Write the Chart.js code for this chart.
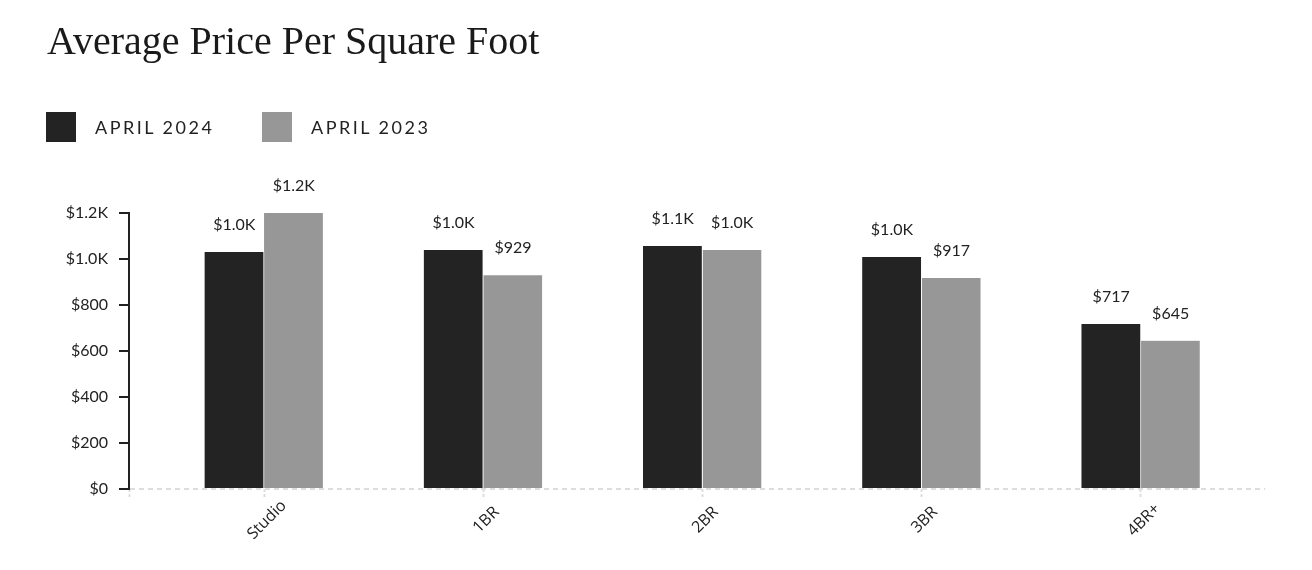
<!DOCTYPE html>
<html><head><meta charset="utf-8">
<script src="https://cdn.jsdelivr.net/npm/chart.js@4.4.1/dist/chart.umd.min.js"></script>
<style>
html,body{margin:0;padding:0;background:#fff;}
#wrap{position:relative;width:1312px;height:570px;overflow:hidden;}
canvas{position:absolute;left:0;top:0;}
#title{position:absolute;left:47px;top:21px;font-family:"Liberation Serif",serif;font-size:40px;line-height:40px;color:#1a1a1a;white-space:nowrap;}
.leg{position:absolute;top:112px;height:30px;display:flex;align-items:center;}
.sw{width:30px;height:30px;margin-right:19px;flex:none;}
.lt{font-family:Lato,sans-serif;font-size:18px;letter-spacing:2.5px;color:#222;white-space:nowrap;}
</style></head>
<body><div id="wrap">
<canvas id="c" width="1312" height="570"></canvas>
<div id="title">Average Price Per Square Foot</div>
<div id="legend"></div>
</div>
<script>
const categories = ['Studio', '1BR', '2BR', '3BR', '4BR+'];
const seriesNames = ['APRIL 2024', 'APRIL 2023'];
const april2024 = [1030, 1039, 1057, 1009, 717];
const april2023 = [1200, 929, 1039, 917, 645];
const yTickValues = [0, 200, 400, 600, 800, 1000, 1200];

const seriesColors = ['#232323', '#979797'];
const legendLeft = [46, 262];

function fmt(v) {
  return v >= 1000 ? '$' + (v / 1000).toFixed(1) + 'K' : '$' + v;
}

// legend (HTML text)
const legEl = document.getElementById('legend');
seriesNames.forEach((name, i) => {
  const d = document.createElement('div');
  d.className = 'leg';
  d.style.left = legendLeft[i] + 'px';
  d.innerHTML = '<div class="sw" style="background:' + seriesColors[i] + '"></div><div class="lt">' + name + '</div>';
  legEl.appendChild(d);
});

const seriesValues = [april2024, april2023];
const datasets = seriesValues.map((vals, s) => ({
  label: seriesNames[s],
  data: vals.map((v, i) => ({ x: i, y: v })),
  backgroundColor: seriesColors[s],
  borderColor: '#ffffff',
  borderWidth: { top: 0, left: 0, bottom: 0, right: 1 },
  borderSkipped: false,
  barThickness: 59.5
}));

const valueLabels = {
  id: 'valueLabels',
  afterDatasetsDraw(chart) {
    const ctx = chart.ctx;
    ctx.save();
    ctx.font = '16px Lato';
    ctx.fillStyle = '#222';
    ctx.textAlign = 'center';
    ctx.textBaseline = 'middle';
    chart.data.datasets.forEach((ds, di) => {
      const meta = chart.getDatasetMeta(di);
      meta.data.forEach((el, i) => {
        ctx.fillText(fmt(ds.data[i].y), el.x, el.y - 27);
      });
    });
    ctx.restore();
  }
};

// category labels, rotated about their centre under each tick of the x scale
const categoryLabels = {
  id: 'categoryLabels',
  afterDraw(chart) {
    const ctx = chart.ctx;
    const xs = chart.scales.x;
    const cy = chart.chartArea.bottom + 31;
    ctx.save();
    ctx.font = '16px "Open Sans"';
    ctx.fillStyle = '#222';
    ctx.textAlign = 'center';
    ctx.textBaseline = 'middle';
    categories.forEach((c, i) => {
      ctx.save();
      ctx.translate(xs.getPixelForValue(i) + 3, cy);
      ctx.rotate(-Math.PI / 4);
      ctx.fillText(c, 0, 0);
      ctx.restore();
    });
    ctx.restore();
  }
};

const X_MIN = -0.616, X_MAX = 4.566;

new Chart(document.getElementById('c'), {
  type: 'bar',
  data: { datasets },
  plugins: [valueLabels, categoryLabels],
  options: {
    responsive: false,
    animation: false,
    layout: { padding: { top: 213, left: 0, right: 47, bottom: 0 } },
    plugins: { legend: { display: false }, title: { display: false }, tooltip: { enabled: false } },
    scales: {
      x: {
        type: 'linear',
        min: X_MIN,
        max: X_MAX,
        offset: false,
        afterBuildTicks(scale) {
          scale.ticks = [{ value: X_MIN }].concat(categories.map((c, i) => ({ value: i })));
        },
        afterFit(scale) { scale.height = 81; },
        border: { display: false },
        grid: { display: true, offset: false, drawOnChartArea: false, drawTicks: true, tickLength: 9, tickColor: '#dddddd', tickWidth: 2, tickBorderDash: [3, 2] },
        ticks: { display: false }
      },
      y: {
        min: 0,
        max: 1200,
        afterBuildTicks(scale) { scale.ticks = yTickValues.map(v => ({ value: v })); },
        afterFit(scale) { scale.width = 129; },
        border: { display: true, color: '#222', width: 2, dash: [5, 4] },
        grid: {
          display: true,
          drawOnChartArea: true,
          color: (ctx) => (ctx.tick && ctx.tick.value === 0) ? '#dddddd' : 'rgba(0,0,0,0)',
          lineWidth: 2,
          drawTicks: true, tickLength: 10, tickColor: '#222', tickWidth: 2, tickBorderDash: []
        },
        ticks: {
          padding: 11,
          color: '#222',
          font: { family: 'Lato', size: 16 },
          callback: (v) => fmt(v)
        }
      }
    }
  }
});
</script>
</body></html>
